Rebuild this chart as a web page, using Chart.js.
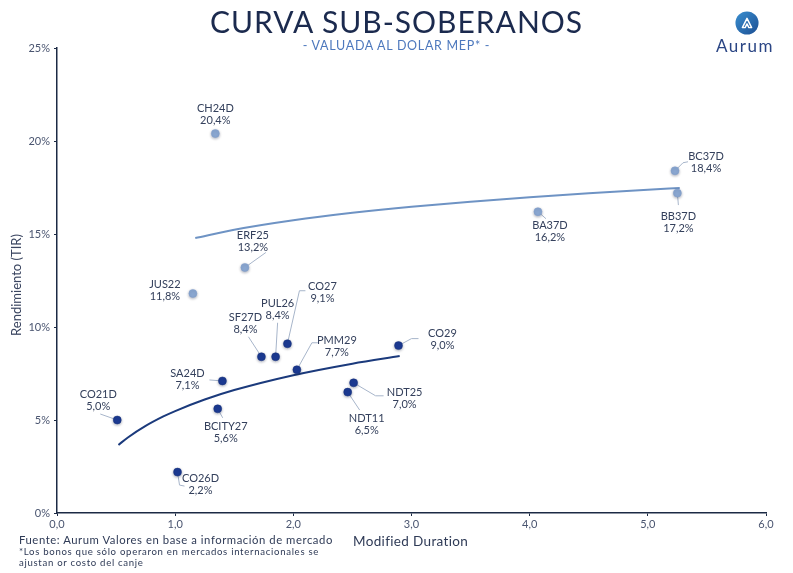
<!DOCTYPE html>
<html>
<head>
<meta charset="utf-8">
<script src="https://cdn.jsdelivr.net/npm/chart.js@4.4.1/dist/chart.umd.min.js"></script>
<style>
  html, body { margin:0; padding:0; background:#fff; }
  #wrap { position:relative; width:793px; height:573px; overflow:hidden; font-family:"Lato","Noto Sans",sans-serif; }
  canvas { position:absolute; left:0; top:0; }
  .t { position:absolute; white-space:nowrap; }
</style>
</head>
<body>
<div id="wrap">
  <canvas id="c" width="793" height="573"></canvas>
  <div class="t" style="left:0;width:793px;top:3px;text-align:center;font-size:30px;color:#1b2a4e;letter-spacing:1px;">CURVA SUB-SOBERANOS</div>
  <div class="t" style="left:0;width:793px;top:38px;text-align:center;font-size:12.5px;color:#4d78bd;letter-spacing:0.7px;">- VALUADA AL DOLAR MEP* -</div>
  <div class="t" style="left:-44px;top:277px;width:120px;text-align:center;font-size:13px;color:#3a4560;transform:rotate(-90deg);">Rendimiento (TIR)</div>
  <div class="t" style="left:353px;top:533px;font-size:13.5px;color:#2e3a56;letter-spacing:0.35px;">Modified Duration</div>
  <div class="t" style="left:19px;top:533px;font-size:11.3px;color:#2e3a56;letter-spacing:0.55px;">Fuente: Aurum Valores en base a información de mercado</div>
  <div class="t" style="left:19px;top:546px;font-size:9.6px;color:#2e3a56;letter-spacing:0.7px;">*Los bonos que sólo operaron en mercados internacionales se</div>
  <div class="t" style="left:19px;top:557px;font-size:9.6px;color:#2e3a56;letter-spacing:0.7px;">ajustan or costo del canje</div>
  <div class="t" style="left:735px;top:11px;width:24px;height:24px;">
    <svg width="24" height="24" viewBox="0 0 26 26">
      <defs><linearGradient id="g" x1="0" y1="0" x2="1" y2="1"><stop offset="0" stop-color="#3a8fd0"/><stop offset="1" stop-color="#1c4f93"/></linearGradient></defs>
      <circle cx="13" cy="13" r="12.5" fill="url(#g)"/>
      <path d="M8 18 L13 8 L18 18 L15 18 L13 14 L11 18 Z" fill="none" stroke="#fff" stroke-width="1.6" stroke-linejoin="round"/>
    </svg>
  </div>
  <div class="t" style="left:716px;top:35px;font-size:17px;color:#2a4584;letter-spacing:1.5px;">Aurum</div>
</div>
<script>
// ---- data ----
const lightNames    = ['CH24D','BC37D','BB37D','BA37D','ERF25','JUS22'];
const lightDuration = [1.34, 5.23, 5.25, 4.07, 1.59, 1.15];
const lightYield    = [20.4, 18.4, 17.2, 16.2, 13.2, 11.8];

const darkNames    = ['CO21D','CO26D','SA24D','BCITY27','SF27D','PUL26','CO27','PMM29','CO29','NDT25','NDT11'];
const darkDuration = [0.51, 1.02, 1.40, 1.36, 1.73, 1.85, 1.95, 2.03, 2.89, 2.51, 2.46];
const darkYield    = [5.0, 2.2, 7.1, 5.6, 8.4, 8.4, 9.1, 7.7, 9.0, 7.0, 6.5];

// trend curves
const darkTrendX  = [0.52, 0.6, 0.75, 0.9, 1.0, 1.25, 1.5, 2.0, 2.5, 2.9];
const darkTrendY  = [3.66, 4.06, 4.68, 5.19, 5.48, 6.10, 6.61, 7.41, 8.03, 8.44];
const lightTrendX = [1.17, 1.5, 2.0, 2.5, 3.0, 3.5, 4.0, 4.5, 5.0, 5.27];
const lightTrendY = [14.78, 15.23, 15.74, 16.14, 16.47, 16.74, 16.98, 17.19, 17.38, 17.47];

const xTicks = [0, 1, 2, 3, 4, 5, 6];
const yTicks = [0, 5, 10, 15, 20, 25];

// ---- label placement (pixels relative to the point) ----
const labelPlacement = {
  CH24D:  { dx: 0,   dy: -25, leader: null },
  BC37D:  { dx: 31,  dy: -14, leader: [[8,-8],[13,-9]] },
  BB37D:  { dx: 1,   dy: 23,  leader: [[1,12]] },
  BA37D:  { dx: 12,  dy: 14,  leader: [[8,7]] },
  ERF25:  { dx: 8,   dy: -32, leader: [[21,-15]] },
  JUS22:  { dx: -28, dy: -9,  leader: null },
  CO21D:  { dx: -19, dy: -26, leader: [[-17,-6]] },
  CO26D:  { dx: 23,  dy: 6,   leader: [[2,13],[7,14]] },
  SA24D:  { dx: -35, dy: -7,  leader: [[-13,-1]] },
  BCITY27:{ dx: 8,   dy: 18,  leader: [[5,9]] },
  SF27D:  { dx: -16, dy: -39, leader: [[-13,-20]] },
  PUL26:  { dx: 2,   dy: -53, leader: [[2,-34]] },
  CO27:   { dx: 35,  dy: -57, leader: [[12,-53],[18,-53]] },
  PMM29:  { dx: 40,  dy: -29, leader: [[15,-27],[21,-27]] },
  CO29:   { dx: 44,  dy: -12, leader: [[13,-7],[20,-7]] },
  NDT25:  { dx: 51,  dy: 10,  leader: [[22,13],[30,13]] },
  NDT11:  { dx: 19,  dy: 26,  leader: [[12,18]] }
};

const toPts = (xs, ys) => xs.map((x, i) => ({ x: x, y: ys[i] }));
const fmt = v => v.toFixed(1).replace('.', ',') + '%';

const labelsPlugin = {
  id: 'bondLabels',
  beforeDatasetsDraw(chart) {
    const ctx = chart.ctx;
    ctx.save();
    ctx.strokeStyle = '#a7b5ca';
    ctx.lineWidth = 1;
    const groups = [[0, lightNames], [1, darkNames]];
    groups.forEach(([di, names]) => {
      const meta = chart.getDatasetMeta(di);
      meta.data.forEach((el, i) => {
        const p = labelPlacement[names[i]];
        if (!p || !p.leader) return;
        ctx.beginPath();
        ctx.moveTo(el.x, el.y);
        p.leader.forEach(([lx, ly]) => ctx.lineTo(el.x + lx, el.y + ly));
        ctx.stroke();
      });
    });
    ctx.restore();
  },
  afterDatasetsDraw(chart) {
    const ctx = chart.ctx;
    ctx.save();
    ctx.fillStyle = '#34405c';
    ctx.font = '11px Lato, "Noto Sans", sans-serif';
    ctx.textAlign = 'center';
    ctx.textBaseline = 'middle';
    const groups = [[0, lightNames, lightYield], [1, darkNames, darkYield]];
    groups.forEach(([di, names, ys]) => {
      const meta = chart.getDatasetMeta(di);
      meta.data.forEach((el, i) => {
        const p = labelPlacement[names[i]];
        if (!p) return;
        ctx.fillText(names[i], el.x + p.dx, el.y + p.dy);
        ctx.fillText(fmt(ys[i]), el.x + p.dx, el.y + p.dy + 12);
      });
    });
    ctx.restore();
  }
};

const shadowPlugin = {
  id: 'ptShadow',
  beforeDatasetDraw(chart, args) {
    if (args.index > 1) return;
    const ctx = chart.ctx;
    ctx.save();
    ctx.shadowColor = 'rgba(20,30,60,0.35)';
    ctx.shadowBlur = 3;
    ctx.shadowOffsetY = 1;
  },
  afterDatasetDraw(chart, args) {
    if (args.index > 1) return;
    chart.ctx.restore();
  }
};

new Chart(document.getElementById('c'), {
  type: 'scatter',
  data: {
    datasets: [
      { data: toPts(lightDuration, lightYield), backgroundColor: '#8ba8d2', borderColor: '#7f9dca', borderWidth: 0.5, pointRadius: 4, order: 1 },
      { data: toPts(darkDuration, darkYield), backgroundColor: '#1c3a92', borderColor: '#17307a', borderWidth: 0.5, pointRadius: 4, order: 1 },
      { type: 'line', data: toPts(darkTrendX, darkTrendY), borderColor: '#1b3a7c', borderWidth: 2, pointRadius: 0, cubicInterpolationMode: 'monotone', fill: false, order: 2 },
      { type: 'line', data: toPts(lightTrendX, lightTrendY), borderColor: '#6e93c4', borderWidth: 2, pointRadius: 0, cubicInterpolationMode: 'monotone', fill: false, order: 2 }
    ]
  },
  options: {
    responsive: false,
    animation: false,
    events: [],
    layout: { padding: { left: 0, right: 27, top: 48, bottom: 0 } },
    plugins: { legend: { display: false }, tooltip: { enabled: false } },
    scales: {
      x: {
        type: 'linear', min: xTicks[0], max: xTicks[xTicks.length - 1],
        afterBuildTicks: s => { s.ticks = xTicks.map(v => ({ value: v })); },
        afterFit: s => { s.height = 60; },
        border: { display: true, color: '#1c2a44', width: 1.5 },
        grid: { drawOnChartArea: false, drawTicks: true, tickLength: 3, color: '#1c2a44' },
        ticks: { color: '#4a5570', font: { size: 11, family: 'Lato' }, padding: 2, callback: v => v.toFixed(1).replace('.', ',') }
      },
      y: {
        type: 'linear', min: yTicks[0], max: yTicks[yTicks.length - 1],
        afterBuildTicks: s => { s.ticks = yTicks.map(v => ({ value: v })); },
        afterFit: s => { s.width = 57; },
        border: { display: true, color: '#1c2a44', width: 1.5 },
        grid: { drawOnChartArea: false, drawTicks: true, tickLength: 3, color: '#1c2a44' },
        ticks: { color: '#4a5570', font: { size: 11, family: 'Lato' }, padding: 4, callback: v => v + '%' }
      }
    }
  },
  plugins: [shadowPlugin, labelsPlugin]
});
</script>
</body>
</html>
